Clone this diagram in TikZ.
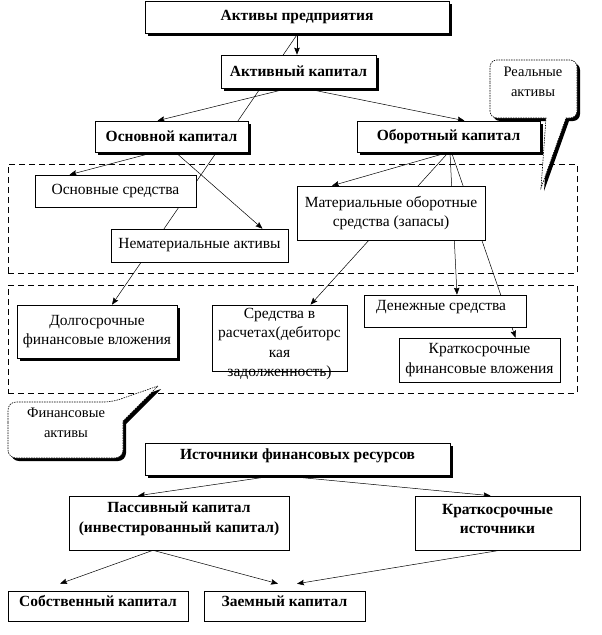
\documentclass[tikz,border=0pt]{standalone}
\usepackage{fontspec}
\setmainfont{Liberation Serif}
\usetikzlibrary{arrows.meta,shadows,backgrounds}
\begin{document}
\begin{tikzpicture}[x=1pt,y=-1pt,
  box/.style={draw, fill=white, line width=0.6pt, inner sep=0pt, align=center,
    font=\fontsize{15.5}{19.5}\selectfont},
  bbox/.style={box, font=\fontsize{15.5}{19.5}\selectfont\bfseries},
  shad/.style={drop shadow={shadow xshift=3pt, shadow yshift=-3pt, fill=black, opacity=1}},
  conn/.style={line width=0.5pt, -{Stealth[length=7pt,width=5.5pt,inset=1pt]}},
  region/.style={draw, dash pattern=on 6pt off 4pt, line width=0.6pt, inner sep=0pt},
  callout/.style={dash pattern=on 1.5pt off 1pt, line width=0.6pt, fill=white},
  ctext/.style={inner sep=0pt, align=center, font=\fontsize{14.5}{19.5}\selectfont},
  ftext/.style={inner sep=0pt, align=center, font=\fontsize{15.5}{19.5}\selectfont},
  btext/.style={inner sep=0pt, align=center, font=\fontsize{15.5}{19.5}\selectfont\bfseries}
]
\useasboundingbox (0,0) rectangle (602,635);

% dashed regions
\node[region, minimum width=569pt, minimum height=109pt] (r1) at (292.5,218.5) {};
\node[region, minimum width=569pt, minimum height=108pt] (r2) at (292.5,339) {};

% upper tree
\node[bbox,shad,minimum width=304pt,minimum height=32pt] (ap) at (297,17) {Активы предприятия};
\node[bbox,shad,minimum width=155pt,minimum height=33pt] (ak) at (298.5,71.5) {Активный капитал};
\node[bbox,shad,minimum width=153pt,minimum height=31pt] (ok) at (171.5,136.5) {Основной капитал};
\node[bbox,shad,minimum width=183pt,minimum height=31pt] (obk) at (448.5,136.5) {Оборотный капитал};
\node[box,minimum width=161pt,minimum height=32pt] (os) at (115.5,191) {Основные средства};
\node[box,minimum width=177pt,minimum height=33pt] (na) at (199.5,245.5) {Нематериальные активы};
\node[box,minimum width=188pt,minimum height=54pt] (mos) at (391,213) {Материальные оборотные\\средства (запасы)};
\node[box,shad,minimum width=160pt,minimum height=53pt] (dfv) at (97,331.5) {Долгосрочные\\финансовые вложения};
\node[box,minimum width=135pt,minimum height=66pt] (sr) at (279.5,338) {};
\node[ftext,anchor=north] (srt) at (279.5,308) {Средства в\\расчетах(дебиторс\\кая\\задолженность)};
\node[box,minimum width=162pt,minimum height=32pt] (ds) at (445,311) {};
\node[ftext,anchor=west] (dst) at (376,307) {Денежные средства};
\node[box,minimum width=161pt,minimum height=44pt] (kfv) at (479.5,360) {Краткосрочные\\финансовые вложения};

% lower tree
\node[bbox,shad,minimum width=305pt,minimum height=32pt] (ifr) at (297.5,459) {};
\node[btext] (ifrt) at (297.5,456) {Источники финансовых ресурсов};
\node[bbox,minimum width=220pt,minimum height=54pt] (pk) at (179,523) {};
\node[btext] (pkt) at (179,519) {Пассивный капитал\\(инвестированный капитал)};
\node[bbox,minimum width=165pt,minimum height=54pt] (ki) at (497.5,523) {};
\node[btext] (kit) at (497.5,519) {Краткосрочные\\источники};
\node[bbox,minimum width=180pt,minimum height=30pt] (sk) at (98,606) {};
\node[btext] (skt) at (98,601) {Собственный капитал};
\node[bbox,minimum width=161pt,minimum height=30pt] (zk) at (284.5,606) {};
\node[btext] (zkt) at (284.5,601) {Заемный капитал};

% callouts
\fill[shift={(3,3)}] (490,89) [rounded corners=7pt] -- (490,60) -- (577,60) -- (577,118) [sharp corners] -- (566,118) -- (541,188) -- (546,118) [rounded corners=7pt] -- (490,118) -- cycle;
\filldraw[callout] (490,89) [rounded corners=7pt] -- (490,60) -- (577,60) -- (577,118) [sharp corners] -- (566,118) -- (541,188) -- (546,118) [rounded corners=7pt] -- (490,118) -- cycle;
\node[ctext] (real) at (533,82) {Реальные\\активы};

\fill[shift={(3,3)}] (8,430) [rounded corners=8pt] -- (8,402) -- (112,402) [sharp corners] -- (158,386) -- (123,421) [rounded corners=8pt] -- (123,458) -- (8,458) -- cycle;
\filldraw[callout] (8,430) [rounded corners=8pt] -- (8,402) -- (112,402) [sharp corners] -- (158,386) -- (123,421) [rounded corners=8pt] -- (123,458) -- (8,458) -- cycle;
\node[ctext] (fin) at (66,423) {Финансовые\\активы};

% connectors behind the boxes
\begin{pgfonlayer}{background}
\draw[conn] (ap.south) -- (ap.south |- ak.north);
\draw[conn] ([xshift=1pt]ap.south) -- ([xshift=15pt]dfv.north);
\draw[conn] ([xshift=-10pt]ak.south) -- ([xshift=-14pt]ok.north);
\draw[conn] ([xshift=6pt]ak.south) -- ([xshift=16pt]obk.north);
\draw[conn] ([xshift=-17pt]ok.south) -- ([xshift=-46pt]os.north);
\draw[conn] ([xshift=4pt]ok.south) -- ([xshift=63pt]na.north);
\draw[conn] (obk.south) -- ([xshift=-59pt]mos.north);
\draw[conn] (obk.south) -- ([xshift=31pt]sr.north);
\draw[conn] ([xshift=1.5pt]obk.south) -- ([xshift=12pt]ds.north);
\draw[conn] ([xshift=3pt]obk.south) -- ([xshift=36pt]kfv.north);
\draw[conn] ([xshift=-20pt]ifr.south) -- ([xshift=-41pt]pk.north);
\draw[conn] ([xshift=-20pt]ifr.south) -- ([xshift=-7pt]ki.north);
\draw[conn] ([xshift=-26pt]pk.south) -- ([xshift=-38pt,yshift=7pt]sk.north);
\draw[conn] ([xshift=-26pt]pk.south) -- ([xshift=-6.5pt,yshift=7pt]zk.north);
\draw[conn] ([xshift=2.5pt]ki.south) -- ([xshift=12.5pt,yshift=7pt]zk.north);
\end{pgfonlayer}
\end{tikzpicture}
\end{document}
